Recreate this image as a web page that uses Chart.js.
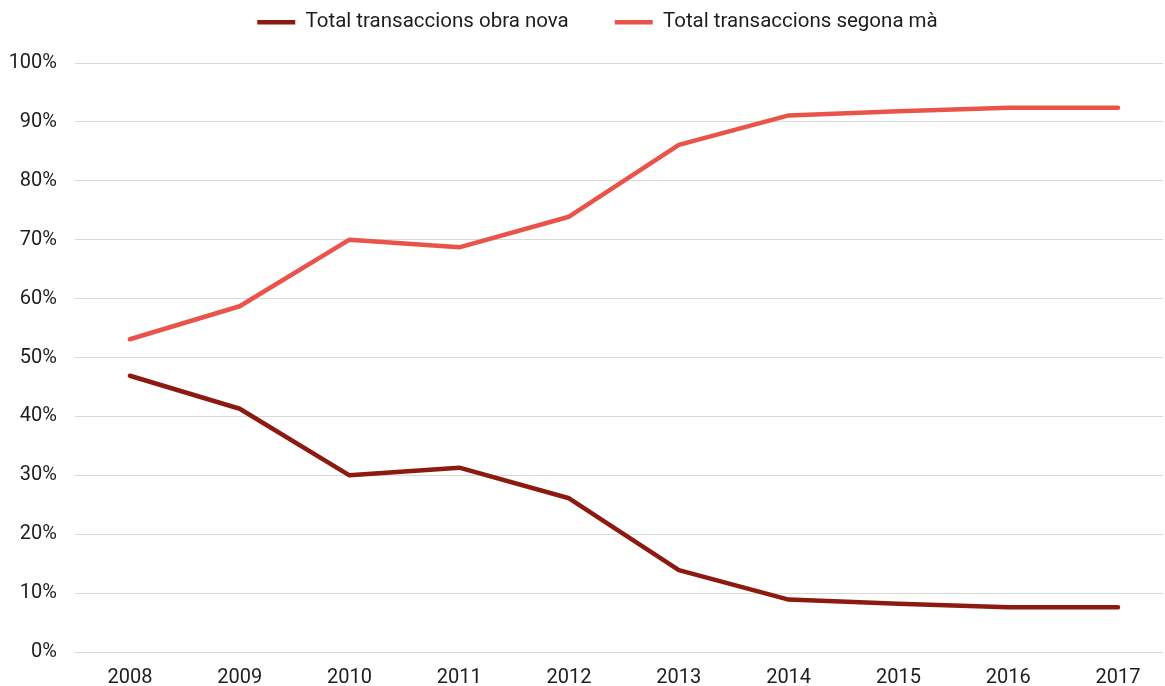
<!DOCTYPE html>
<html>
<head>
<meta charset="utf-8">
<script src="https://cdn.jsdelivr.net/npm/chart.js@4/dist/chart.umd.min.js"></script>
<style>
html,body{margin:0;padding:0;background:#fff;}
#wrap{width:1165px;height:686px;position:relative;}
</style>
</head>
<body>
<div id="wrap"><canvas id="c"></canvas></div>
<script>
const years = [2008, 2009, 2010, 2011, 2012, 2013, 2014, 2015, 2016, 2017];
const obraNova = [46.9, 41.3, 30.0, 31.3, 26.1, 13.9, 8.9, 8.2, 7.6, 7.6];
const segonaMa = [53.1, 58.7, 70.0, 68.7, 73.9, 86.1, 91.1, 91.8, 92.4, 92.4];
const seriesNames = ['Total transaccions obra nova', 'Total transaccions segona mà'];
const yTicks = [0, 10, 20, 30, 40, 50, 60, 70, 80, 90, 100];

const toPts = arr => arr.map((v, i) => ({x: years[i], y: v}));

// legend takes no layout space; it is placed in the band above the plot
const legendPlacer = {
  id: 'legendPlacer',
  beforeLayout(chart) {
    const lg = chart.legend;
    if (lg && !lg._zeroPatched) {
      const origFit = lg.fit.bind(lg);
      lg.fit = function () { origFit(); this.height = 0; };
      lg._zeroPatched = true;
    }
  },
  afterLayout(chart) {
    const lg = chart.legend;
    if (!lg) return;
    lg.left = 30;
    lg.right = chart.width;
    lg.width = lg.right - lg.left;
    lg.top = -34;
    lg.bottom = 60;
    lg.height = lg.bottom - lg.top;
  }
};

new Chart(document.getElementById('c'), {
  type: 'line',
  data: {
    datasets: [
      {label: seriesNames[0], data: toPts(obraNova), borderColor: '#8c1a11', backgroundColor: '#8c1a11',
       borderWidth: 4.5, pointRadius: 0, fill: false, tension: 0, borderCapStyle: 'round', borderJoinStyle: 'round'},
      {label: seriesNames[1], data: toPts(segonaMa), borderColor: '#ea534a', backgroundColor: '#ea534a',
       borderWidth: 4.5, pointRadius: 0, fill: false, tension: 0, borderCapStyle: 'round', borderJoinStyle: 'round'}
    ]
  },
  plugins: [legendPlacer],
  options: {
    responsive: true,
    maintainAspectRatio: false,
    animation: false,
    layout: {padding: {left: 0, right: 2, top: 63, bottom: 0}},
    plugins: {
      tooltip: {enabled: false},
      legend: {
        position: 'top',
        labels: {
          usePointStyle: true,
          pointStyle: 'line',
          pointStyleWidth: 38,
          padding: 46,
          color: '#1e1e1e',
          font: {family: 'Roboto', size: 20.5}
        }
      }
    },
    scales: {
      x: {
        type: 'linear',
        min: 2007.5,
        max: 2017.41,
        afterFit: s => { s.height = 34; },
        grid: {display: false, drawTicks: false},
        border: {display: false},
        afterBuildTicks: s => { s.ticks = years.map(v => ({value: v})); },
        ticks: {
          color: '#1e1e1e',
          padding: 14,
          autoSkip: false,
          maxRotation: 0,
          font: {family: 'Roboto', size: 20},
          callback: v => String(v)
        }
      },
      y: {
        min: 0,
        max: 100,
        afterFit: s => { s.width = 75; },
        afterBuildTicks: s => { s.ticks = yTicks.map(v => ({value: v})); },
        grid: {color: '#d9d9d9', lineWidth: 1, drawTicks: false},
        border: {display: false},
        ticks: {
          color: '#1e1e1e',
          padding: 18,
          font: {family: 'Roboto', size: 20},
          callback: v => v + '%'
        }
      }
    }
  }
});
</script>
</body>
</html>
